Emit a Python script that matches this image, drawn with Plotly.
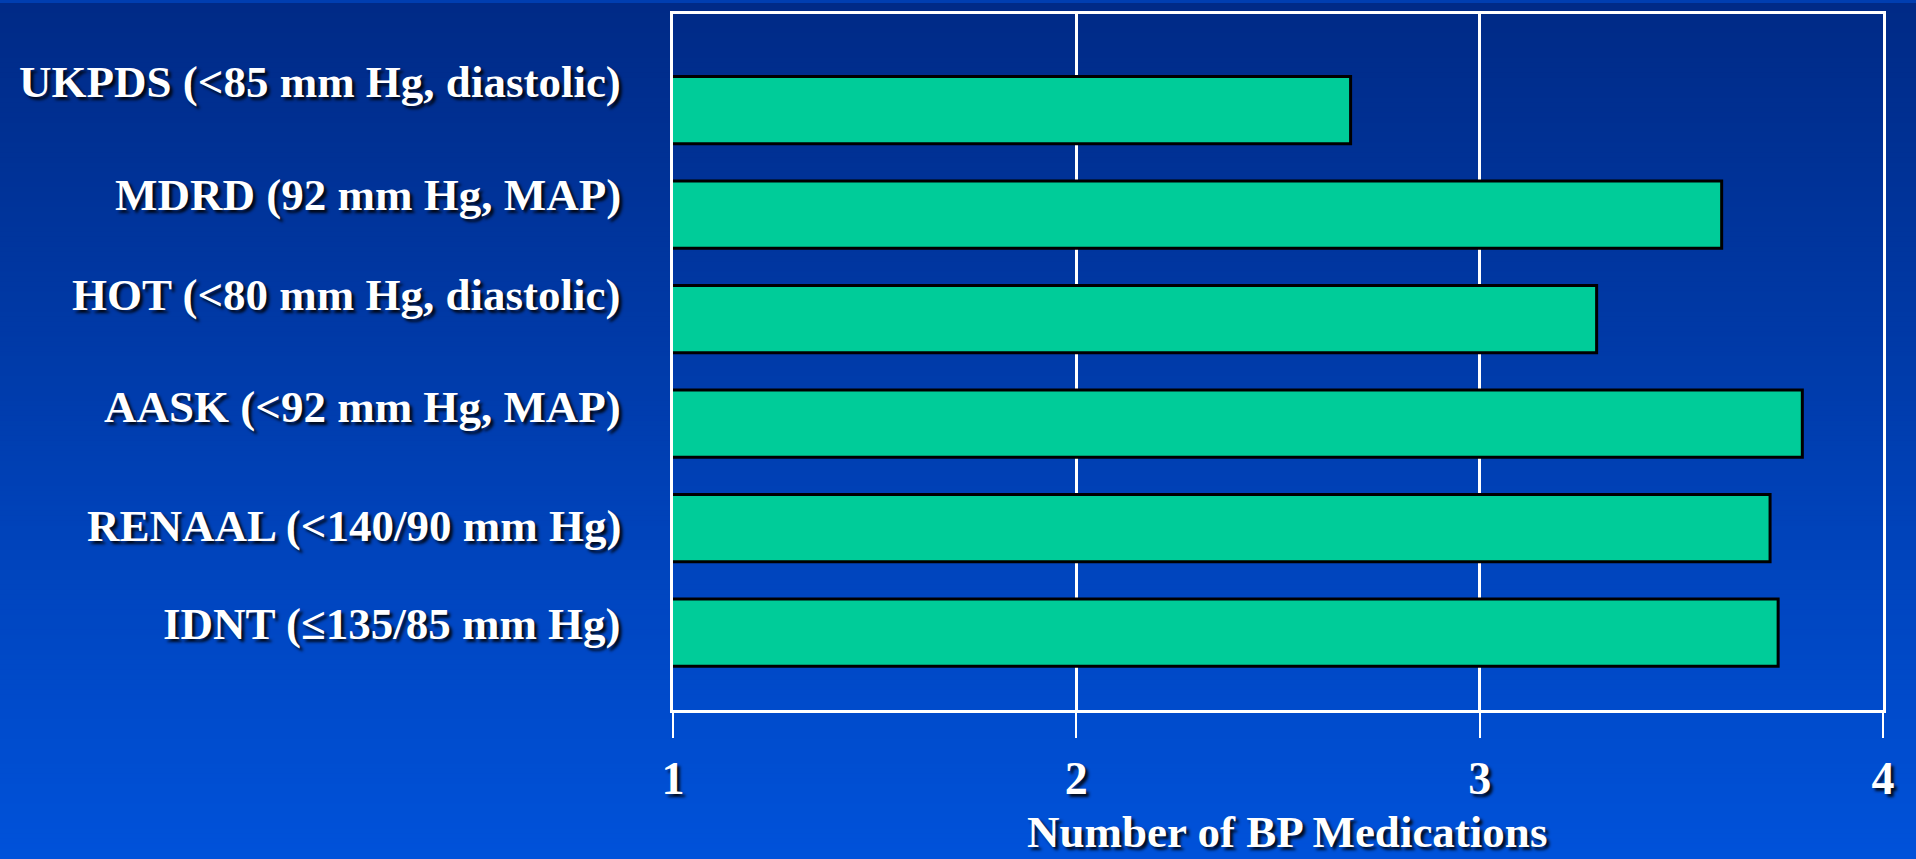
import plotly.graph_objects as go

# Trials (top to bottom) and mean number of BP medications used
studies = [
    "UKPDS (<85 mm Hg, diastolic)",
    "MDRD (92 mm Hg, MAP)",
    "HOT (<80 mm Hg, diastolic)",
    "AASK (<92 mm Hg, MAP)",
    "RENAAL (<140/90 mm Hg)",
    "IDNT (\u2264135/85 mm Hg)",
]
medications = [2.68, 3.60, 3.29, 3.80, 3.72, 3.74]

x_ticks = [1, 2, 3, 4]
x_tick_labels = ["1", "2", "3", "4"]
x_title = "Number of BP Medications"

W, H = 1916, 859
M_L, M_R, M_T, M_B = 673, 33, 11, 149

SERIF = "Liberation Serif, Times New Roman, serif"
SHADOW = "3px 3px 3px rgba(0,0,0,0.85)"
BAR_COLOR = "#00CC99"

fig = go.Figure()

fig.add_trace(go.Bar(
    y=studies,
    x=medications,
    orientation="h",
    width=0.645,
    marker=dict(color=BAR_COLOR, line=dict(color="#000000", width=3)),
    hoverinfo="x+y",
    showlegend=False,
))

# Vertical gradient background built from thin paper-space bands
top_rgb = (0, 42, 134)
bot_rgb = (0, 82, 218)
n_bands = 172
plot_h = H - M_T - M_B
shapes = []
for i in range(n_bands):
    t = (i + 0.5) / n_bands
    r = round(top_rgb[0] + (bot_rgb[0] - top_rgb[0]) * t)
    g = round(top_rgb[1] + (bot_rgb[1] - top_rgb[1]) * t)
    b = round(top_rgb[2] + (bot_rgb[2] - top_rgb[2]) * t)
    p0 = H * i / n_bands
    p1 = H * (i + 1) / n_bands + 1
    shapes.append(dict(
        type="rect", xref="paper", yref="paper", layer="below",
        x0=-1, x1=2,
        y0=(H - M_B - p1) / plot_h, y1=(H - M_B - p0) / plot_h,
        fillcolor=f"rgb({r},{g},{b})", line=dict(width=0),
    ))

# Category labels, right-aligned to the left of the frame
label_shift = [28, 20, 24, 17, 2, 9]
annotations = []
for name, dy in zip(studies, label_shift):
    annotations.append(dict(
        x=0, xref="paper", y=name, yref="y",
        xanchor="right", yanchor="middle",
        xshift=-50, yshift=dy,
        text=name, showarrow=False,
        font=dict(family=SERIF, size=45, color="white", weight="bold", shadow=SHADOW),
    ))

# Axis title, sitting at the bottom edge of the page
annotations.append(dict(
    x=0.5, xref="paper", y=0, yref="paper",
    xanchor="center", yanchor="bottom", xshift=9, yshift=-M_B,
    text=x_title, showarrow=False,
    font=dict(family=SERIF, size=45, color="white", weight="bold", shadow=SHADOW),
))

fig.update_layout(
    width=W, height=H,
    margin=dict(l=M_L, r=M_R, t=M_T, b=M_B, pad=0),
    paper_bgcolor="rgb(0,62,176)",
    plot_bgcolor="rgba(0,0,0,0)",
    shapes=shapes,
    annotations=annotations,
    xaxis=dict(
        range=[1, 4],
        tickmode="array", tickvals=x_ticks, ticktext=x_tick_labels,
        ticks="outside", ticklen=25, tickwidth=2, tickcolor="white",
        ticklabelstandoff=1,
        tickfont=dict(family=SERIF, size=46, color="white", weight="bold", shadow=SHADOW),
        showgrid=True, gridcolor="white", gridwidth=2.5,
        showline=True, linecolor="white", linewidth=3, mirror=True,
        zeroline=False, fixedrange=True,
    ),
    yaxis=dict(
        type="category",
        categoryorder="array", categoryarray=studies,
        range=[5.74, -0.92],
        showticklabels=False, ticks="",
        showgrid=False,
        showline=True, linecolor="white", linewidth=3, mirror=True,
        zeroline=False, fixedrange=True,
    ),
)

fig.write_html("out.html")
